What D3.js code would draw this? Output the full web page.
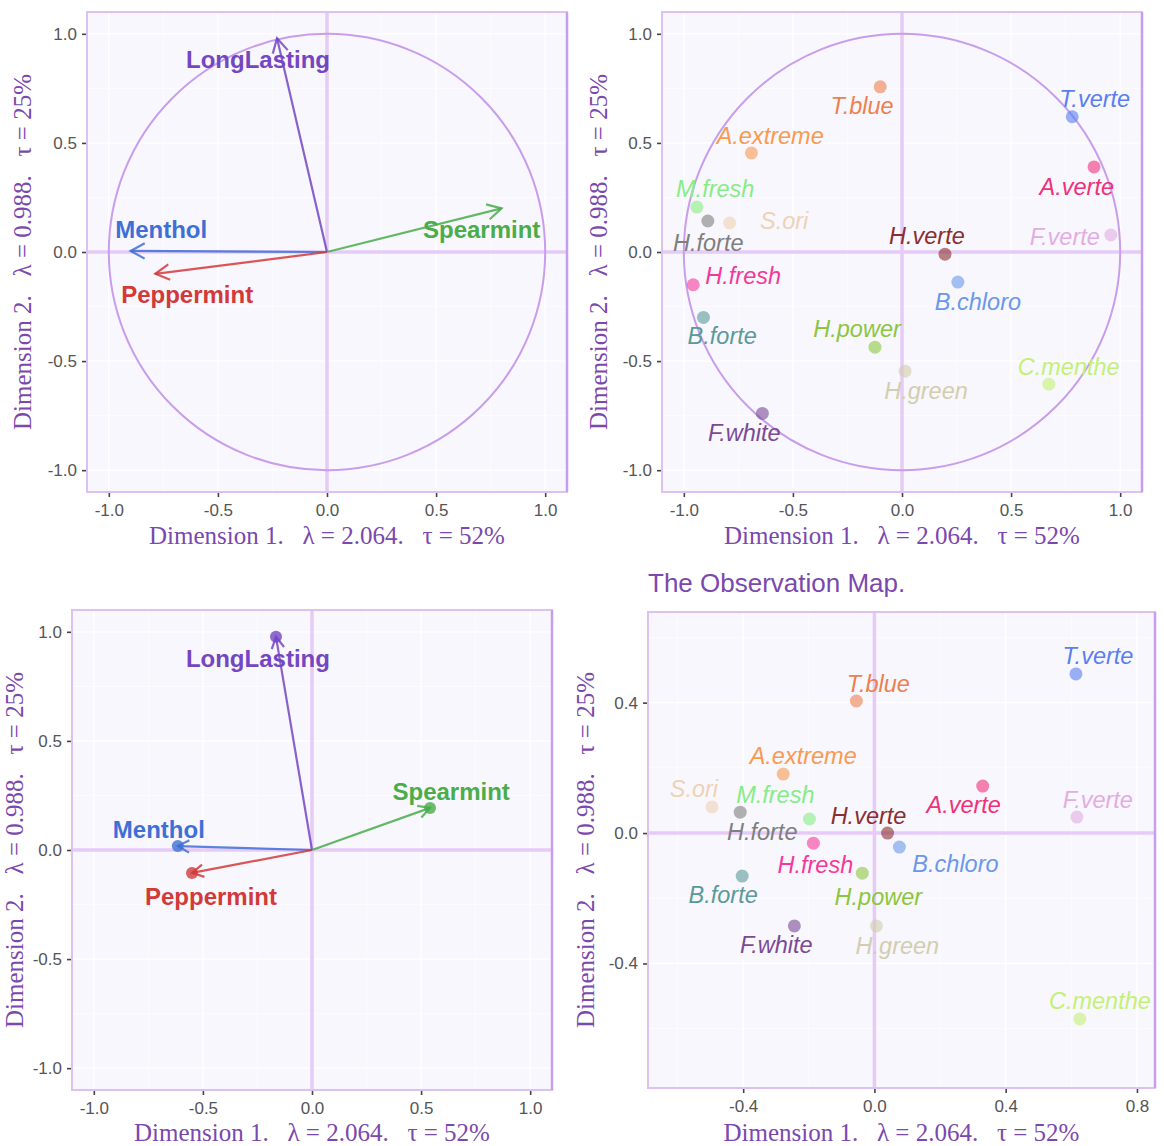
<!DOCTYPE html>
<html>
<head>
<meta charset="utf-8">
<script src="https://cdn.jsdelivr.net/npm/d3@7"></script>
<style>
  body { margin: 0; background: #fff; }
  svg { display: block; }
</style>
</head>
<body>
<svg id="chart" width="1164" height="1146"></svg>
<script>
'use strict';

// variables (loadings)
var variables = ['LongLasting', 'Spearmint', 'Menthol', 'Peppermint'];
var variableColors = ['#7446c2', '#4aad4a', '#3f6fd6', '#d23a3a'];
// correlation circle (top left)
var corX = [-0.229, 0.80, -0.90, -0.787];
var corY = [0.98, 0.20, 0.005, -0.10];
var corLabelX = [-0.316, 0.709, -0.760, -0.641];
var corLabelY = [0.881, 0.101, 0.101, -0.197];
// loadings (bottom left)
var loadX = [-0.165, 0.541, -0.615, -0.55];
var loadY = [0.977, 0.193, 0.018, -0.105];
var loadLabelX = [-0.248, 0.638, -0.702, -0.463];
var loadLabelY = [0.876, 0.266, 0.092, -0.211];

// products (observations)
var products = ['T.blue', 'T.verte', 'A.extreme', 'A.verte', 'M.fresh', 'H.forte', 'S.ori', 'H.verte',
                'F.verte', 'H.fresh', 'B.chloro', 'B.forte', 'H.power', 'H.green', 'C.menthe', 'F.white'];
var productColors = ['#ef7f4f', '#5a7ff0', '#f99a50', '#f0307a', '#86ec86', '#7f7f7f', '#efd2b4', '#8b2e2e',
                     '#e3ade3', '#f5389a', '#6b98ea', '#5a9a9a', '#8cc63f', '#d3cdaf', '#c4f078', '#7a4a96'];
// observations on the circle (top right)
var circX = [-0.10, 0.78, -0.69, 0.88, -0.94, -0.89, -0.79, 0.197, 0.957, -0.957, 0.256, -0.91, -0.124, 0.014, 0.673, -0.64];
var circY = [0.757, 0.62, 0.454, 0.39, 0.206, 0.142, 0.133, -0.01, 0.078, -0.15, -0.138, -0.30, -0.436, -0.546, -0.606, -0.74];
var circLabelX = [-0.183, 0.883, -0.604, 0.801, -0.856, -0.888, -0.540, 0.114, 0.746, -0.728, 0.348, -0.824, -0.206, 0.110, 0.764, -0.723];
var circLabelY = [0.670, 0.702, 0.532, 0.298, 0.289, 0.041, 0.142, 0.073, 0.069, -0.110, -0.229, -0.385, -0.353, -0.638, -0.528, -0.830];
// observation map (bottom right)
var scoreX = [-0.055, 0.614, -0.278, 0.33, -0.198, -0.409, -0.495, 0.04, 0.617, -0.186, 0.076, -0.403, -0.037, 0.006, 0.626, -0.244];
var scoreY = [0.405, 0.488, 0.181, 0.144, 0.043, 0.064, 0.08, 0.0, 0.049, -0.031, -0.043, -0.132, -0.123, -0.285, -0.57, -0.285];
var scoreLabelX = [0.012, 0.681, -0.217, 0.272, -0.302, -0.342, -0.550, -0.018, 0.681, -0.180, 0.247, -0.461, 0.012, 0.070, 0.687, -0.299];
var scoreLabelY = [0.457, 0.543, 0.236, 0.086, 0.117, 0.003, 0.135, 0.052, 0.101, -0.098, -0.095, -0.190, -0.196, -0.347, -0.515, -0.344];

var ticksUnit = [-1, -0.5, 0, 0.5, 1];
var minorUnit = [-0.75, -0.25, 0.25, 0.75];
var ticksMapX = [-0.4, 0, 0.4, 0.8];
var ticksMapY = [-0.4, 0, 0.4];
var minorMap = [-0.6, -0.2, 0.2, 0.6];

var xTitle = 'Dimension 1.   \u03bb = 2.064.   \u03c4 = 52%';
var yTitle = 'Dimension 2.   \u03bb = 0.988.   \u03c4 = 25%';
var mapTitle = 'The Observation Map.';

var svg = d3.select('#chart');
var purpleText = '#7a48ae';

function fmt(d) { return d.toFixed(1); }

function drawPanel(p) {
  var x = d3.scaleLinear().domain(p.xd).range([p.left, p.right]);
  var y = d3.scaleLinear().domain(p.yd).range([p.bottom, p.top]);
  var g = svg.append('g');

  g.append('rect')
      .attr('x', p.left).attr('y', p.top)
      .attr('width', p.right - p.left).attr('height', p.bottom - p.top)
      .attr('fill', '#f8f7fd');

  // grid
  g.selectAll('.minx').data(p.minorX).enter().append('line')
      .attr('x1', x).attr('x2', x).attr('y1', p.top).attr('y2', p.bottom)
      .attr('stroke', '#fff').attr('stroke-width', 0.6);
  g.selectAll('.miny').data(p.minorY).enter().append('line')
      .attr('y1', y).attr('y2', y).attr('x1', p.left).attr('x2', p.right)
      .attr('stroke', '#fff').attr('stroke-width', 0.6);
  g.selectAll('.gx').data(p.xt).enter().append('line')
      .attr('x1', x).attr('x2', x).attr('y1', p.top).attr('y2', p.bottom)
      .attr('stroke', '#fff').attr('stroke-width', 1.2);
  g.selectAll('.gy').data(p.yt).enter().append('line')
      .attr('y1', y).attr('y2', y).attr('x1', p.left).attr('x2', p.right)
      .attr('stroke', '#fff').attr('stroke-width', 1.2);

  // zero lines
  g.append('line')
      .attr('x1', p.left).attr('x2', p.right).attr('y1', y(0)).attr('y2', y(0))
      .attr('stroke', '#e6cbf7').attr('stroke-width', 3.5);
  g.append('line')
      .attr('x1', x(0)).attr('x2', x(0)).attr('y1', p.top).attr('y2', p.bottom)
      .attr('stroke', '#e6cbf7').attr('stroke-width', 3.5);

  // border
  g.append('rect')
      .attr('x', p.left).attr('y', p.top)
      .attr('width', p.right - p.left).attr('height', p.bottom - p.top)
      .attr('fill', 'none').attr('stroke', '#dcc2f3').attr('stroke-width', 2);
  g.append('line')
      .attr('x1', p.right).attr('x2', p.right).attr('y1', p.top).attr('y2', p.bottom)
      .attr('stroke', '#c99ded').attr('stroke-width', 2.5);

  // axes
  var ax = g.append('g')
      .attr('transform', 'translate(0,' + (p.bottom + 1) + ')')
      .call(d3.axisBottom(x).tickValues(p.xt).tickFormat(fmt).tickSize(4).tickPadding(7));
  var ay = g.append('g')
      .attr('transform', 'translate(' + (p.left - 1) + ',0)')
      .call(d3.axisLeft(y).tickValues(p.yt).tickFormat(fmt).tickSize(4).tickPadding(5));
  [ax, ay].forEach(function(a) {
    a.select('.domain').remove();
    a.selectAll('.tick line').attr('stroke', '#444').attr('stroke-width', 1.6);
    a.selectAll('.tick text')
        .attr('fill', '#555')
        .style('font-family', '"Liberation Sans", Arial, sans-serif')
        .style('font-size', '17px');
  });

  // axis titles
  g.append('text')
      .attr('x', (p.left + p.right) / 2).attr('y', p.xTitleY)
      .attr('text-anchor', 'middle')
      .style('white-space', 'pre')
      .style('font-family', '"Liberation Serif", "Times New Roman", serif')
      .style('font-size', '25px')
      .attr('fill', purpleText)
      .text(xTitle);
  g.append('text')
      .attr('transform', 'translate(' + p.yTitleX + ',' + ((p.top + p.bottom) / 2) + ') rotate(-90)')
      .attr('text-anchor', 'middle')
      .attr('dominant-baseline', 'central')
      .style('white-space', 'pre')
      .style('font-family', '"Liberation Serif", "Times New Roman", serif')
      .style('font-size', '25px')
      .attr('fill', purpleText)
      .text(yTitle);

  return {g: g, x: x, y: y};
}

function drawCircle(panel) {
  panel.g.append('circle')
      .attr('cx', panel.x(0)).attr('cy', panel.y(0))
      .attr('r', panel.x(1) - panel.x(0))
      .attr('fill', 'none')
      .attr('stroke', '#c89eec')
      .attr('stroke-width', 2);
}

function arrowHead(x0, y0, x1, y1, len) {
  var a = Math.atan2(y1 - y0, x1 - x0);
  var s = 0.5;
  var p1 = [x1 - len * Math.cos(a - s), y1 - len * Math.sin(a - s)];
  var p2 = [x1 - len * Math.cos(a + s), y1 - len * Math.sin(a + s)];
  return 'M' + p1 + 'L' + x1 + ',' + y1 + 'L' + p2;
}

function drawArrows(panel, ax, ay, lx, ly, dots) {
  var x = panel.x, y = panel.y;
  var data = variables.map(function(v, i) {
    return {name: v, color: variableColors[i], x: ax[i], y: ay[i], lx: lx[i], ly: ly[i]};
  });
  var a = panel.g.selectAll('.arrow').data(data).enter().append('g');
  a.append('line')
      .attr('x1', x(0)).attr('y1', y(0))
      .attr('x2', function(d) { return x(d.x); })
      .attr('y2', function(d) { return y(d.y); })
      .attr('stroke', function(d) { return d.color; })
      .attr('stroke-opacity', 0.85)
      .attr('stroke-width', 2.2);
  a.append('path')
      .attr('d', function(d) { return arrowHead(x(0), y(0), x(d.x), y(d.y), dots ? 13 : 16); })
      .attr('fill', 'none')
      .attr('stroke', function(d) { return d.color; })
      .attr('stroke-opacity', 0.85)
      .attr('stroke-width', 2.2);
  if (dots) {
    a.append('circle')
        .attr('cx', function(d) { return x(d.x); })
        .attr('cy', function(d) { return y(d.y); })
        .attr('r', 6)
        .attr('fill', function(d) { return d.color; })
        .attr('fill-opacity', 0.8);
  }
  a.append('text')
      .attr('x', function(d) { return x(d.lx); })
      .attr('y', function(d) { return y(d.ly); })
      .attr('text-anchor', 'middle')
      .attr('dominant-baseline', 'central')
      .style('font-family', '"Liberation Sans", Arial, sans-serif')
      .style('font-weight', 'bold')
      .style('font-size', '24px')
      .attr('fill', function(d) { return d.color; })
      .text(function(d) { return d.name; });
}

function drawProducts(panel, px, py, lx, ly) {
  var x = panel.x, y = panel.y;
  var data = products.map(function(v, i) {
    return {name: v, color: productColors[i], x: px[i], y: py[i], lx: lx[i], ly: ly[i]};
  });
  panel.g.selectAll('.dot').data(data).enter().append('circle')
      .attr('cx', function(d) { return x(d.x); })
      .attr('cy', function(d) { return y(d.y); })
      .attr('r', 6.5)
      .attr('fill', function(d) { return d.color; })
      .attr('fill-opacity', 0.6);
  panel.g.selectAll('.lab').data(data).enter().append('text')
      .attr('x', function(d) { return x(d.lx); })
      .attr('y', function(d) { return y(d.ly); })
      .attr('text-anchor', 'middle')
      .attr('dominant-baseline', 'central')
      .style('font-family', '"Liberation Sans", Arial, sans-serif')
      .style('font-style', 'italic')
      .style('font-size', '23.5px')
      .attr('fill', function(d) { return d.color; })
      .text(function(d) { return d.name; });
}

var p1 = drawPanel({left: 87, right: 567, top: 12, bottom: 492, xd: [-1.1, 1.1], yd: [-1.1, 1.1],
  xt: ticksUnit, yt: ticksUnit, minorX: minorUnit, minorY: minorUnit, xTitleY: 544, yTitleX: 22});
drawCircle(p1);
drawArrows(p1, corX, corY, corLabelX, corLabelY, false);

var p2 = drawPanel({left: 662, right: 1142, top: 12, bottom: 492, xd: [-1.1, 1.1], yd: [-1.1, 1.1],
  xt: ticksUnit, yt: ticksUnit, minorX: minorUnit, minorY: minorUnit, xTitleY: 544, yTitleX: 598});
drawCircle(p2);
drawProducts(p2, circX, circY, circLabelX, circLabelY);

var p3 = drawPanel({left: 72, right: 552, top: 610, bottom: 1090, xd: [-1.1, 1.1], yd: [-1.1, 1.1],
  xt: ticksUnit, yt: ticksUnit, minorX: minorUnit, minorY: minorUnit, xTitleY: 1141, yTitleX: 14});
drawArrows(p3, loadX, loadY, loadLabelX, loadLabelY, true);

var p4 = drawPanel({left: 648, right: 1155, top: 612, bottom: 1088, xd: [-0.69, 0.855], yd: [-0.782, 0.678],
  xt: ticksMapX, yt: ticksMapY, minorX: minorMap, minorY: minorMap, xTitleY: 1141, yTitleX: 585});
drawProducts(p4, scoreX, scoreY, scoreLabelX, scoreLabelY);

svg.append('text')
    .attr('x', 648).attr('y', 592)
    .style('font-family', '"Liberation Sans", Arial, sans-serif')
    .style('font-size', '26px')
    .attr('fill', purpleText)
    .text(mapTitle);
</script>
</body>
</html>
